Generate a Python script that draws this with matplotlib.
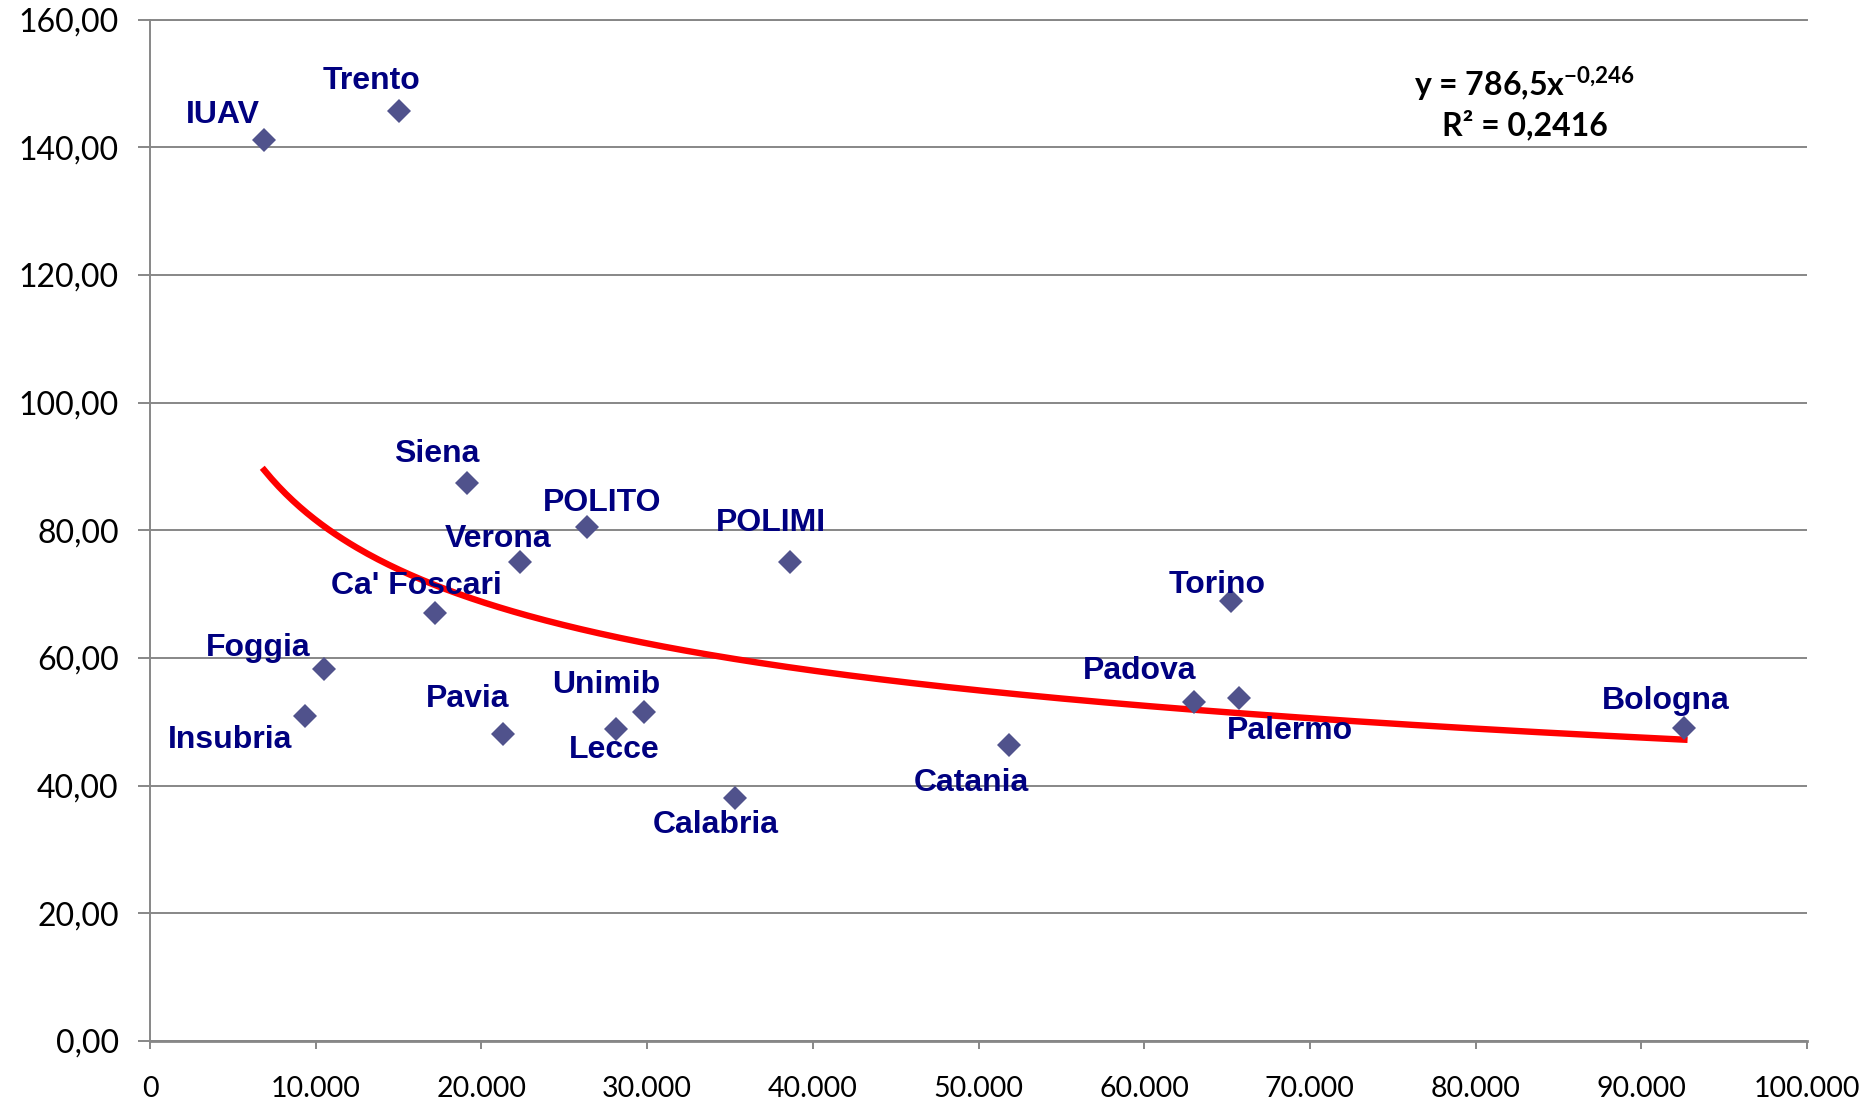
import numpy as np
import matplotlib
matplotlib.use('Agg')
import matplotlib.pyplot as plt
from matplotlib.ticker import FuncFormatter, MultipleLocator

# universities: size (x) vs value (y)
names = ['IUAV', 'Trento', 'Siena', 'POLITO', 'Verona', 'POLIMI', "Ca' Foscari",
         'Foggia', 'Insubria', 'Pavia', 'Unimib', 'Lecce', 'Calabria', 'Catania',
         'Torino', 'Padova', 'Palermo', 'Bologna']
x_vals = [6900, 15000, 19150, 26400, 22300, 38650, 17200,
          10500, 9350, 21300, 29800, 28150, 35300, 51850,
          65250, 63000, 65750, 92600]
y_vals = [141.1, 145.6, 87.4, 80.5, 75.0, 75.0, 67.0,
          58.2, 50.9, 48.1, 51.6, 48.8, 38.0, 46.4,
          68.9, 53.1, 53.7, 49.0]

# power trendline shown on the chart
coef_a = 786.5
coef_b = -0.246
r2_text = '0,2416'

# label offsets in pixels (dx, dy), y up
label_off = {
    'IUAV': (-41, 25), 'Trento': (-27, 30), 'Siena': (-31, 29), 'POLITO': (15, 24),
    'Verona': (-21, 23), 'POLIMI': (-19, 39), "Ca' Foscari": (-19, 27),
    'Foggia': (-66, 21), 'Insubria': (-75, -24), 'Pavia': (-35, 35),
    'Unimib': (-38, 27), 'Lecce': (-2, -21), 'Calabria': (-19, -27),
    'Catania': (-38, -38), 'Torino': (-14, 16), 'Padova': (-54, 31),
    'Palermo': (50, -33), 'Bologna': (-19, 27),
}

grid_col = '#878787'

fig = plt.figure(figsize=(18.72, 11.18), dpi=100)
ax = fig.add_axes([150 / 1872, 1 - 1041 / 1118, (1807 - 150) / 1872, (1041 - 19.5) / 1118])

ax.set_xlim(0, 100000)
ax.set_ylim(0, 160)
ax.xaxis.set_major_locator(MultipleLocator(10000))
ax.yaxis.set_major_locator(MultipleLocator(20))
ax.xaxis.set_major_formatter(FuncFormatter(lambda v, p: f'{int(round(v)):,}'.replace(',', '.')))
ax.yaxis.set_major_formatter(FuncFormatter(lambda v, p: f'{v:.2f}'.replace('.', ',')))

ax.yaxis.grid(True, color=grid_col, linewidth=1.4)
ax.set_axisbelow(True)
ax.spines['right'].set_visible(False)
ax.spines['top'].set_color(grid_col)
ax.spines['top'].set_linewidth(1.4)
ax.spines['left'].set_color(grid_col)
ax.spines['left'].set_linewidth(1.4)
ax.spines['bottom'].set_color(grid_col)
ax.spines['bottom'].set_linewidth(2.0)

ax.tick_params(axis='y', length=8.5, width=1.4, color=grid_col, pad=14,
               labelsize=23, labelcolor='black')
ax.tick_params(axis='x', length=6, width=1.4, color=grid_col, pad=19,
               labelsize=20.5, labelcolor='black')
for lab in ax.get_xticklabels() + ax.get_yticklabels():
    lab.set_family('Lato')

# trendline
xt = np.linspace(min(x_vals), max(x_vals), 400)
ax.plot(xt, coef_a * xt ** coef_b, color='#FF0000', linewidth=4.6, zorder=2)

ax.plot(x_vals, y_vals, linestyle='none', marker='D', markersize=12,
        color='#50528C', markeredgewidth=0, zorder=3)

for n, xv, yv in zip(names, x_vals, y_vals):
    dx, dy = label_off[n]
    ax.annotate(n, (xv, yv), xytext=(dx, dy), textcoords='offset pixels',
                ha='center', va='center', fontsize=23, fontweight='bold',
                family='Liberation Sans', color='#000080', zorder=4)

plt.rcParams['mathtext.fontset'] = 'custom'
plt.rcParams['mathtext.bf'] = 'Lato:bold'
plt.rcParams['mathtext.rm'] = 'Lato:bold'
fig.text(1525 / 1872, 1 - 84 / 1118, 'y = 786,5x$^{\\mathbf{-0{,}246}}$',
         ha='center', va='center', fontsize=23, fontweight='bold', family='Lato')
fig.text(1525 / 1872, 1 - 125 / 1118, 'R² = ' + r2_text,
         ha='center', va='center', fontsize=23, fontweight='bold', family='Lato')

fig.savefig('out.png', dpi=100)
